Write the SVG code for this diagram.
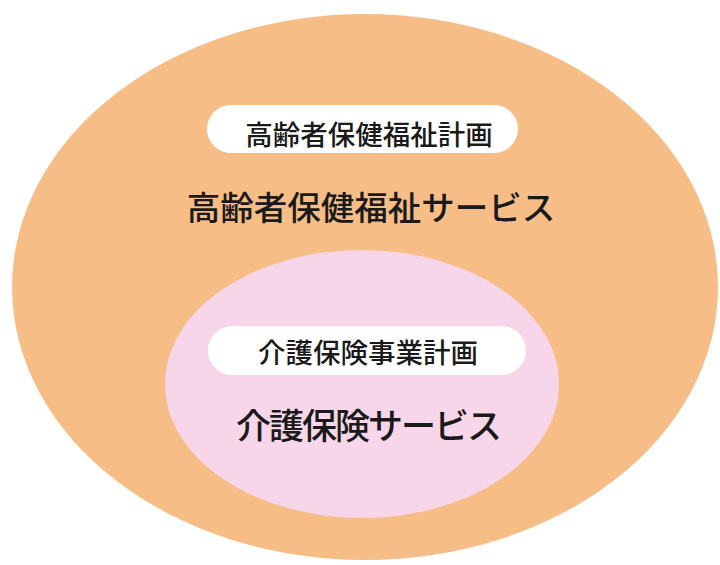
<svg xmlns="http://www.w3.org/2000/svg" width="720" height="565" viewBox="0 0 720 565">
<style>
.t{font-family:"Noto Sans CJK JP","Noto Sans CJK SC",sans-serif;fill:#1a1a1a;text-anchor:middle;font-weight:500}
.pill{fill:#ffffff}
</style>
<rect width="720" height="565" fill="#ffffff"/>
<g id="outer">
<ellipse cx="365" cy="287" rx="353" ry="273" fill="#F7BD87"/>
<rect class="pill" x="207" y="105" width="311" height="48" rx="24"/>
<text class="t" x="369" y="145" font-size="27.5">高齢者保健福祉計画</text>
<text class="t" x="371" y="220" font-size="33.5">高齢者保健福祉サービス</text>
</g>
<g id="inner">
<ellipse cx="362" cy="384" rx="197" ry="134" fill="#F8D6EA"/>
<rect class="pill" x="208" y="326" width="318" height="49" rx="24.5"/>
<text class="t" x="368" y="363" font-size="27.5">介護保険事業計画</text>
<text class="t" x="369" y="439" font-size="35" textLength="266" lengthAdjust="spacing">介護保険サービス</text>
</g>
<g id="connectors"/>
</svg>
